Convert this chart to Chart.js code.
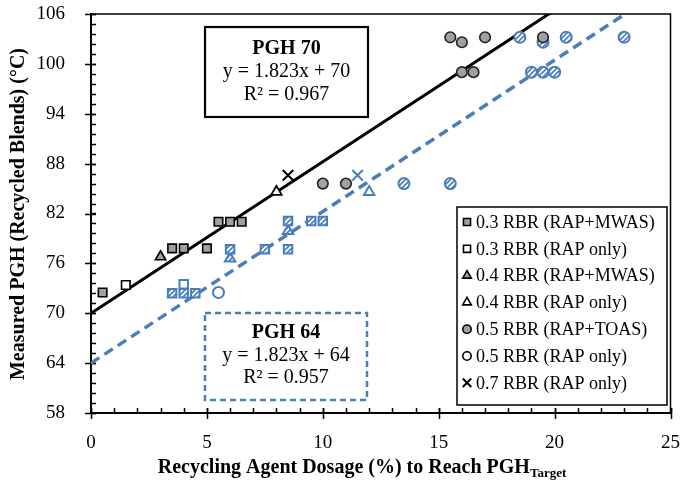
<!DOCTYPE html>
<html><head><meta charset="utf-8">
<script src="https://cdn.jsdelivr.net/npm/chart.js@4/dist/chart.umd.min.js"></script>
<style>html,body{margin:0;padding:0;background:#fff;}#wrap{width:680px;height:487px;position:relative;}</style>
</head><body><div id="wrap"><canvas id="c" width="680" height="487"></canvas></div>
<script>
const FONT = '"Liberation Serif", "Times New Roman", serif';
const BLUE = '#4a7ebb';
const GRAY = '#a0a0a0';

// ---- PGH 70 (black markers) ----
const b_sqMW_x = [0.5, 3.5, 4, 5, 5.5, 6, 6.5];
const b_sqMW_y = [72.5, 77.8, 77.8, 77.8, 81, 81, 81];
const b_sqRAP_x = [1.5];
const b_sqRAP_y = [73.4];
const b_triMW_x = [3];
const b_triMW_y = [76.8];
const b_triRAP_x = [8];
const b_triRAP_y = [84.6];
const b_cirTO_x = [10, 11, 15.5, 16, 16, 16.5, 17, 19.5];
const b_cirTO_y = [85.6, 85.6, 103.2, 102.6, 99, 99, 103.2, 103.2];
const b_x7_x = [8.5];
const b_x7_y = [86.6];

// ---- PGH 64 (blue markers) ----
const u_sqMW_x = [3.5, 4, 4.5, 6, 7.5, 8.5, 8.5, 9.5, 10];
const u_sqMW_y = [72.4, 72.4, 72.4, 77.7, 77.7, 77.7, 81.1, 81.1, 81.1];
const u_sqRAP_x = [4];
const u_sqRAP_y = [73.5];
const u_triMW_x = [6, 8.5];
const u_triMW_y = [76.6, 79.9];
const u_triRAP_x = [12];
const u_triRAP_y = [84.6];
const u_cirTO_x = [13.5, 15.5, 18.5, 19.5, 20.5, 23, 19, 19.5, 20];
const u_cirTO_y = [85.6, 85.6, 103.2, 102.6, 103.2, 103.2, 99, 99, 99];
const u_cirRAP_x = [5.5];
const u_cirRAP_y = [72.5];
const u_x7_x = [11.5];
const u_x7_y = [86.6];

// ---- trend lines (from the printed equations) ----
const trendX = [0, 25];
const slope = 1.823;
const icpt70 = 70, icpt64 = 64;

// ---- axes ----
const xTicks = [0, 5, 10, 15, 20, 25];
const yTicks = [58, 64, 70, 76, 82, 88, 94, 100, 106];

const legendLabels = ['0.3 RBR (RAP+MWAS)', '0.3 RBR (RAP only)', '0.4 RBR (RAP+MWAS)',
  '0.4 RBR (RAP only)', '0.5 RBR (RAP+TOAS)', '0.5 RBR (RAP only)', '0.7 RBR (RAP only)'];

const canvas = document.getElementById('c');
const mctx = canvas.getContext('2d');
function makeHatch() {
  const c = document.createElement('canvas'); c.width = 5; c.height = 5;
  const g = c.getContext('2d');
  g.fillStyle = '#fff'; g.fillRect(0, 0, 5, 5);
  g.strokeStyle = BLUE; g.lineWidth = 1.6;
  g.beginPath(); g.moveTo(-1, 6); g.lineTo(6, -1); g.stroke();
  g.beginPath(); g.moveTo(-1, 1); g.lineTo(1, -1); g.stroke();
  g.beginPath(); g.moveTo(4, 6); g.lineTo(6, 4); g.stroke();
  return mctx.createPattern(c, 'repeat');
}
const HATCH = makeHatch();

function pts(xs, ys) { return xs.map((x, i) => ({ x: x, y: ys[i] })); }
function mk(label, xs, ys, style, fill, stroke, r, bw) {
  return { label: label, data: pts(xs, ys), showLine: false, pointStyle: style,
    pointRadius: r, pointHoverRadius: r, pointBackgroundColor: fill, pointBorderColor: stroke,
    pointBorderWidth: bw, backgroundColor: fill, borderColor: stroke, order: 1 };
}
function trend(icpt, color, dash, w) {
  return { label: 'trend', data: trendX.map(x => ({ x: x, y: slope * x + icpt })), showLine: true,
    pointRadius: 0, borderColor: color, borderWidth: w, borderDash: dash, fill: false, order: 10 };
}

const datasets = [
  mk('b1', b_sqMW_x, b_sqMW_y, 'rect', GRAY, '#000', 6, 1.6),
  mk('b2', b_sqRAP_x, b_sqRAP_y, 'rect', '#fff', '#000', 6, 1.6),
  mk('b3', b_triMW_x, b_triMW_y, 'triangle', GRAY, '#000', 6, 1.6),
  mk('b4', b_triRAP_x, b_triRAP_y, 'triangle', '#fff', '#000', 6, 1.8),
  mk('b5', b_cirTO_x, b_cirTO_y, 'circle', GRAY, '#222', 5.3, 1.6),
  mk('b7', b_x7_x, b_x7_y, 'crossRot', '#000', '#000', 7.5, 2),
  mk('u1', u_sqMW_x, u_sqMW_y, 'rect', HATCH, BLUE, 6, 2),
  mk('u2', u_sqRAP_x, u_sqRAP_y, 'rect', '#fff', BLUE, 6, 2),
  mk('u3', u_triMW_x, u_triMW_y, 'triangle', HATCH, BLUE, 6, 2),
  mk('u4', u_triRAP_x, u_triRAP_y, 'triangle', '#fff', BLUE, 6, 2),
  mk('u5', u_cirTO_x, u_cirTO_y, 'circle', HATCH, BLUE, 5.5, 2),
  mk('u6', u_cirRAP_x, u_cirRAP_y, 'circle', '#fff', BLUE, 5.5, 2),
  mk('u7', u_x7_x, u_x7_y, 'crossRot', BLUE, BLUE, 7.5, 2),
  trend(icpt70, '#000', [], 3),
  trend(icpt64, BLUE, [10, 6], 3.5)
];
const legendStyles = [
  { s: 'rect', f: GRAY, r: 5 }, { s: 'rect', f: '#fff', r: 5 },
  { s: 'triangle', f: GRAY, r: 5 }, { s: 'triangle', f: '#fff', r: 5 },
  { s: 'circle', f: GRAY, r: 4.2 }, { s: 'circle', f: '#fff', r: 4.2 },
  { s: 'crossRot', f: '#000', r: 6 }
];

const decor = {
  id: 'decor',
  beforeDatasetsDraw(chart) {
    const ctx = chart.ctx, a = chart.chartArea, xs = chart.scales.x, ys = chart.scales.y;
    ctx.save();
    ctx.strokeStyle = '#000';
    ctx.lineWidth = 1.5;
    ctx.beginPath();
    ctx.moveTo(a.left, a.top); ctx.lineTo(a.right, a.top); ctx.lineTo(a.right, a.bottom);
    ctx.stroke();
    // y ticks: minor inside, major crossing
    for (let v = ys.min; v <= ys.max + 1e-6; v += 1.2) {
      const p = Math.round(ys.getPixelForValue(v)) + 0.5;
      ctx.beginPath(); ctx.moveTo(a.left, p); ctx.lineTo(a.left + 5, p); ctx.stroke();
    }
    yTicks.forEach(v => {
      const p = Math.round(ys.getPixelForValue(v)) + 0.5;
      ctx.beginPath(); ctx.moveTo(a.left - 6, p); ctx.lineTo(a.left + 5, p); ctx.stroke();
    });
    for (let v = xs.min; v <= xs.max + 1e-6; v += 1) {
      const p = Math.round(xs.getPixelForValue(v)) + 0.5;
      ctx.beginPath(); ctx.moveTo(p, a.bottom); ctx.lineTo(p, a.bottom - 5); ctx.stroke();
    }
    xTicks.forEach(v => {
      const p = Math.round(xs.getPixelForValue(v)) + 0.5;
      ctx.beginPath(); ctx.moveTo(p, a.bottom + 6); ctx.lineTo(p, a.bottom - 5); ctx.stroke();
    });
    ctx.restore();
  },
  afterDraw(chart) {
    const ctx = chart.ctx;
    ctx.save();
    // PGH 70 box
    ctx.fillStyle = '#fff';
    ctx.fillRect(205, 27, 163, 90);
    ctx.strokeStyle = '#000'; ctx.lineWidth = 2.2; ctx.setLineDash([]);
    ctx.strokeRect(205, 27, 163, 90);
    ctx.fillStyle = '#000'; ctx.textAlign = 'center'; ctx.textBaseline = 'middle';
    ctx.font = 'bold 20px ' + FONT; ctx.fillText('PGH 70', 286.5, 49);
    ctx.font = '20px ' + FONT; ctx.fillText('y = 1.823x + 70', 286.5, 72);
    ctx.fillText('R² = 0.967', 286.5, 95);
    // PGH 64 box
    ctx.fillStyle = '#fff';
    ctx.fillRect(205, 313, 162, 87);
    ctx.strokeStyle = BLUE; ctx.lineWidth = 2.5; ctx.setLineDash([6, 4]);
    ctx.strokeRect(205, 313, 162, 87);
    ctx.setLineDash([]);
    ctx.fillStyle = '#000';
    ctx.font = 'bold 20px ' + FONT; ctx.fillText('PGH 64', 286, 333);
    ctx.font = '20px ' + FONT; ctx.fillText('y = 1.823x + 64', 286, 356);
    ctx.fillText('R² = 0.957', 286, 378);
    // legend
    ctx.fillStyle = '#fff';
    ctx.fillRect(457, 207, 210, 198);
    ctx.strokeStyle = '#000'; ctx.lineWidth = 1.5;
    ctx.strokeRect(457, 207, 210, 198);
    ctx.textAlign = 'left'; ctx.font = '18px ' + FONT;
    legendLabels.forEach((lab, i) => {
      const cy = 222 + i * 26.8;
      const st = legendStyles[i];
      ctx.fillStyle = st.f; ctx.strokeStyle = '#000'; ctx.lineWidth = st.s === 'crossRot' ? 2 : 1.6;
      Chart.helpers.drawPoint(ctx, { pointStyle: st.s, radius: st.r, borderWidth: ctx.lineWidth, rotation: 0 }, 467, cy);
      ctx.fillStyle = '#000';
      ctx.fillText(lab, 476, cy + 1);
    });
    // x title with subscript
    const main = 'Recycling Agent Dosage (%) to Reach PGH', sub = 'Target';
    ctx.font = 'bold 20px ' + FONT; const w1 = ctx.measureText(main).width;
    ctx.font = 'bold 13px ' + FONT; const w2 = ctx.measureText(sub).width;
    const x0 = 362 - (w1 + w2) / 2;
    ctx.textBaseline = 'alphabetic';
    ctx.font = 'bold 20px ' + FONT; ctx.fillText(main, x0, 473);
    ctx.font = 'bold 13px ' + FONT; ctx.fillText(sub, x0 + w1, 477);
    // y title
    ctx.translate(19, 214); ctx.rotate(-Math.PI / 2);
    ctx.textAlign = 'center'; ctx.textBaseline = 'middle';
    ctx.font = 'bold 20px ' + FONT;
    ctx.fillText('Measured PGH (Recycled Blends) (°C)', 0, 0);
    ctx.restore();
  }
};

new Chart(canvas, {
  type: 'scatter',
  data: { datasets: datasets },
  options: {
    responsive: false, animation: false, devicePixelRatio: 1,
    layout: { padding: { top: 14, right: 9, left: 0, bottom: 0 } },
    plugins: { legend: { display: false }, tooltip: { enabled: false } },
    scales: {
      x: {
        type: 'linear', min: 0, max: 25,
        afterBuildTicks: s => { s.ticks = xTicks.map(v => ({ value: v })); },
        ticks: { font: { family: FONT, size: 19 }, color: '#000', padding: 11, maxRotation: 0 },
        grid: { display: false },
        border: { display: true, color: '#000', width: 2 },
        afterFit: s => { s.height = 74; s.paddingLeft = 0; s.paddingRight = 0; }
      },
      y: {
        type: 'linear', min: 58, max: 106,
        afterBuildTicks: s => { s.ticks = yTicks.map(v => ({ value: v })); },
        ticks: { font: { family: FONT, size: 19 }, color: '#000', padding: 18 },
        grid: { display: false },
        border: { display: true, color: '#000', width: 2 },
        afterFit: s => { s.width = 91; s.paddingTop = 0; s.paddingBottom = 0; }
      }
    }
  },
  plugins: [decor]
});
</script></body></html>
